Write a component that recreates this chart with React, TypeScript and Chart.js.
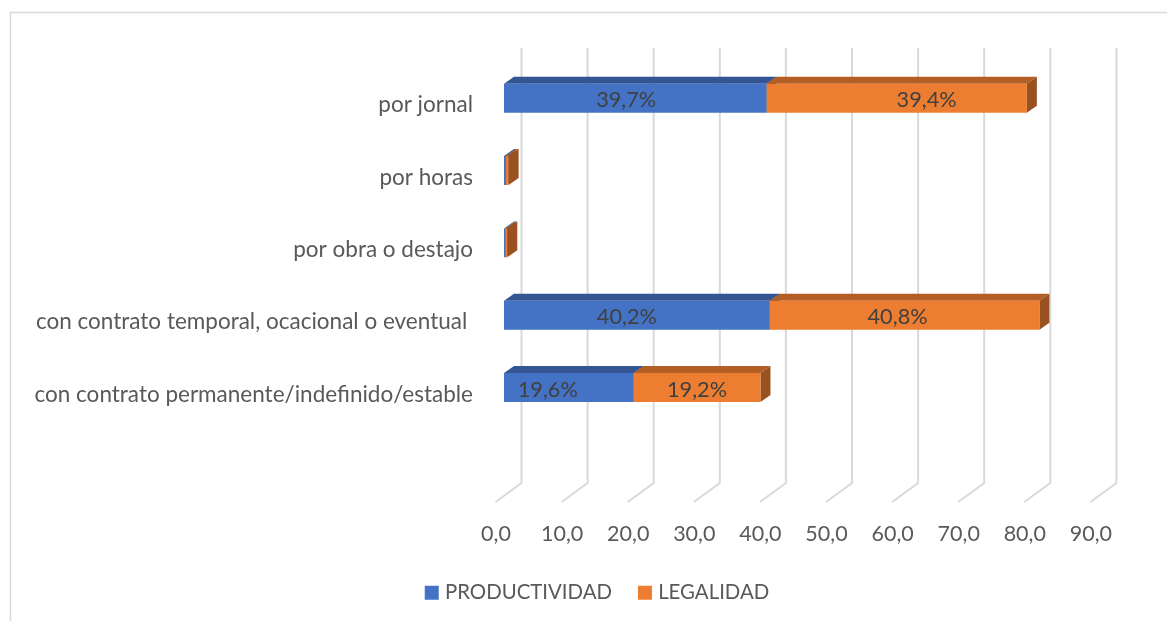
import React, { useEffect, useRef } from "react";
import { Chart, registerables } from "chart.js";

Chart.register(...registerables);

const categories = [
  "por jornal",
  "por horas",
  "por obra o destajo",
  "con contrato temporal, ocacional o eventual ",
  "con contrato permanente/indefinido/estable",
  "",
];
const productividad = [39.7, 0.3, 0.2, 40.2, 19.6, null];
const legalidad = [39.4, 0.4, 0.3, 40.8, 19.2, null];
const seriesNames = ["PRODUCTIVIDAD", "LEGALIDAD"];

const FONT = "Lato, Carlito, 'Open Sans', sans-serif";
const GREY = "#595959";
const GRID = "#d9d9d9";
const FRONT = ["#4472C4", "#ED7D31"];
const TOP = ["#335593", "#B25E25"];
const SIDE = ["#2C4A80", "#9A5120"];
const DEPTH_X = 10;
const DEPTH_Y = 7;
const LAST_TICK = 90;
// manual label placement, px from the centre of each segment
const LABEL_NUDGE = [
  [-9, 0, 0, -10, -21, 0],
  [30, 0, 0, -7, 0, 0],
];

function poly(ctx: CanvasRenderingContext2D, pts: number[][], fill: string) {
  ctx.fillStyle = fill;
  ctx.beginPath();
  pts.forEach(([x, y], i) => (i ? ctx.lineTo(x, y) : ctx.moveTo(x, y)));
  ctx.closePath();
  ctx.fill();
}

const frame3d = {
  id: "frame3d",
  beforeDatasetsDraw(chart: any) {
    const ctx: CanvasRenderingContext2D = chart.ctx;
    const xs = chart.scales.x;
    ctx.save();
    // outer frame
    ctx.strokeStyle = GRID;
    ctx.lineWidth = 1.5;
    ctx.beginPath();
    ctx.moveTo(10.5, 621);
    ctx.lineTo(10.5, 12.5);
    ctx.lineTo(1167, 12.5);
    ctx.stroke();
    // back wall grid lines and floor diagonals
    ctx.lineWidth = 2;
    xs.ticks.forEach((t: any) => {
      const x = xs.getPixelForValue(t.value);
      ctx.beginPath();
      ctx.moveTo(x + 17.5, 48);
      ctx.lineTo(x + 17.5, 483);
      ctx.lineTo(x - 8.5, 502);
      ctx.stroke();
    });
    // bar top and side faces
    chart.data.datasets.forEach((_: any, d: number) => {
      chart.getDatasetMeta(d).data.forEach((bar: any, i: number) => {
        if (chart.data.datasets[d].data[i] == null) return;
        const { x, y, base, height } = bar.getProps(["x", "y", "base", "height"], true);
        const t = y - height / 2;
        const b = y + height / 2;
        poly(ctx, [[base, t], [x, t], [x + DEPTH_X, t - DEPTH_Y], [base + DEPTH_X, t - DEPTH_Y]], TOP[d]);
        poly(ctx, [[x, t], [x + DEPTH_X, t - DEPTH_Y], [x + DEPTH_X, b - DEPTH_Y], [x, b]], SIDE[d]);
      });
    });
    ctx.restore();
  },
  afterDatasetsDraw(chart: any) {
    const ctx: CanvasRenderingContext2D = chart.ctx;
    ctx.save();
    ctx.font = `21.7px ${FONT}`;
    ctx.fillStyle = "#404040";
    ctx.textAlign = "center";
    ctx.textBaseline = "middle";
    chart.data.datasets.forEach((ds: any, d: number) => {
      chart.getDatasetMeta(d).data.forEach((bar: any, i: number) => {
        const v = ds.data[i];
        if (v == null || v < 1) return;
        const { x, y, base } = bar.getProps(["x", "y", "base"], true);
        ctx.fillText(v.toFixed(1).replace(".", ",") + "%", (x + base) / 2 + LABEL_NUDGE[d][i], y + 2);
      });
    });
    ctx.restore();
  },
};

export default function App() {
  const ref = useRef<HTMLCanvasElement>(null);
  useEffect(() => {
    const chart = new Chart(ref.current!, {
      type: "bar",
      data: {
        labels: categories,
        datasets: [
          { label: seriesNames[0], data: productividad, backgroundColor: FRONT[0], stack: "s", categoryPercentage: 1, barPercentage: 0.4 },
          { label: seriesNames[1], data: legalidad, backgroundColor: FRONT[1], stack: "s", categoryPercentage: 1, barPercentage: 0.4 },
        ],
      } as any,
      options: {
        indexAxis: "y",
        animation: false,
        responsive: false,
        layout: { padding: { left: 33, right: 2, top: 62, bottom: 8 } },
        scales: {
          x: {
            type: "linear",
            min: 0,
            max: 100,
            stacked: true,
            grid: { display: false },
            border: { display: false },
            afterFit: (s: any) => { s.height = 56.5; },
            afterBuildTicks: (s: any) => { s.ticks = s.ticks.filter((t: any) => t.value <= LAST_TICK); },
            ticks: {
              stepSize: 10,
              labelOffset: -8,
              padding: 17,
              maxRotation: 0,
              color: GREY,
              font: { family: FONT, size: 21.5 },
              callback: (v: any) => Number(v).toFixed(1).replace(".", ","),
            },
          },
          y: {
            stacked: true,
            grid: { display: false },
            border: { display: false },
            afterFit: (s: any) => { s.width = 471; },
            ticks: {
              autoSkip: false,
              labelOffset: 7,
              padding: 23,
              color: GREY,
              font: { family: FONT, size: 22.5 },
            },
          },
        },
        plugins: {
          tooltip: { enabled: false },
          legend: {
            position: "bottom",
            labels: {
              color: GREY,
              font: { family: FONT, size: 20.4 },
              boxWidth: 6,
              boxHeight: 6,
              padding: 30,
              generateLabels: (c: any) =>
                c.data.datasets.map((ds: any, i: number) => ({
                  text: ds.label,
                  fillStyle: FRONT[i],
                  strokeStyle: FRONT[i],
                  lineWidth: 8,
                  fontColor: GREY,
                  datasetIndex: i,
                })),
            },
          },
        },
      },
      plugins: [frame3d],
    } as any);
    return () => chart.destroy();
  }, []);
  return (
    <div style={{ position: "absolute", left: 0, top: 0, width: 1167, height: 621, background: "#fff" }}>
      <canvas ref={ref} width={1167} height={621} style={{ display: "block" }} />
    </div>
  );
}
